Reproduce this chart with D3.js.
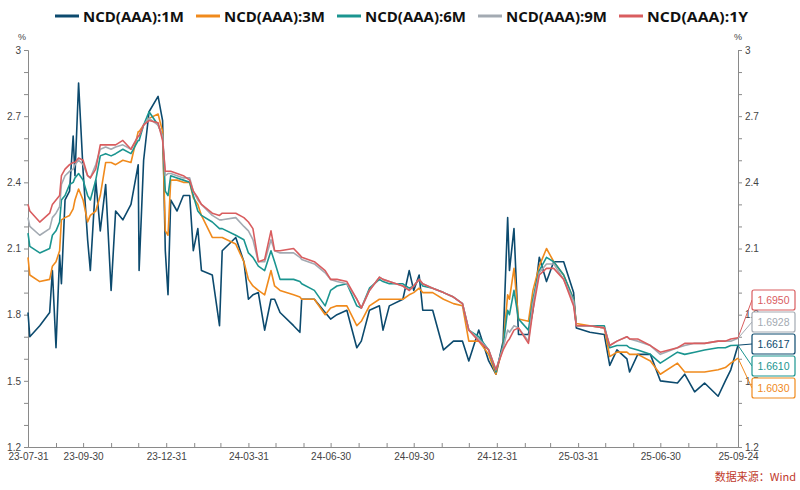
<!DOCTYPE html>
<html><head><meta charset="utf-8">
<script src="https://cdn.jsdelivr.net/npm/d3@7"></script>
<style>body{margin:0;background:#fff}svg{display:block;font-family:"Liberation Sans","Noto Sans",sans-serif}</style>
</head><body><svg id="c" width="800" height="490"></svg>
<script>
const dates = ["2023-07-31","2023-08-02","2023-08-13","2023-08-24","2023-08-27","2023-08-31","2023-09-04","2023-09-06","2023-09-10","2023-09-15","2023-09-19","2023-09-21","2023-09-25","2023-09-30","2023-10-05","2023-10-08","2023-10-14","2023-10-19","2023-10-25","2023-10-31","2023-11-05","2023-11-13","2023-11-22","2023-11-30","2023-12-01","2023-12-06","2023-12-12","2023-12-22","2023-12-27","2023-12-30","2024-01-02","2024-01-05","2024-01-12","2024-01-19","2024-01-26","2024-01-30","2024-02-04","2024-02-08","2024-02-20","2024-02-28","2024-03-02","2024-03-17","2024-03-26","2024-03-31","2024-04-05","2024-04-11","2024-04-18","2024-04-25","2024-04-29","2024-05-05","2024-05-20","2024-05-27","2024-05-29","2024-06-12","2024-06-24","2024-06-30","2024-07-07","2024-07-18","2024-07-29","2024-08-03","2024-08-12","2024-08-23","2024-08-27","2024-09-03","2024-09-18","2024-09-25","2024-09-30","2024-10-06","2024-10-10","2024-10-21","2024-11-02","2024-11-13","2024-11-23","2024-11-30","2024-12-11","2024-12-22","2024-12-30","2025-01-07","2025-01-12","2025-01-14","2025-01-19","2025-01-24","2025-02-04","2025-02-09","2025-02-16","2025-02-24","2025-03-04","2025-03-15","2025-03-26","2025-03-29","2025-04-13","2025-04-29","2025-05-05","2025-05-13","2025-05-24","2025-05-27","2025-06-05","2025-06-19","2025-06-30","2025-07-19","2025-07-27","2025-08-07","2025-08-18","2025-09-02","2025-09-10","2025-09-16","2025-09-24"];
const s1M = [1.81,1.70,1.75,1.81,2.00,1.65,2.07,1.94,2.32,2.36,2.61,2.43,2.85,2.45,2.14,2.00,2.41,2.18,2.39,1.91,2.27,2.23,2.30,2.48,2.00,2.50,2.72,2.79,2.68,2.09,1.89,2.32,2.27,2.34,2.34,2.09,2.19,2.00,1.98,1.75,2.09,2.15,2.04,1.87,1.89,1.90,1.73,1.87,1.87,1.81,1.75,1.72,1.87,1.87,1.81,1.78,1.80,1.82,1.65,1.68,1.82,1.84,1.73,1.84,1.87,2.00,1.91,1.98,1.82,1.82,1.64,1.68,1.68,1.59,1.73,1.59,1.53,1.68,2.24,2.00,2.19,1.71,1.71,1.82,2.06,1.95,2.04,2.04,1.90,1.74,1.72,1.71,1.57,1.64,1.60,1.54,1.62,1.62,1.50,1.49,1.53,1.45,1.49,1.43,1.50,1.55,1.6617];
const s3M = [2.06,1.98,1.95,1.96,2.02,2.04,2.09,2.23,2.24,2.25,2.28,2.32,2.37,2.32,2.22,2.25,2.27,2.34,2.49,2.49,2.48,2.50,2.49,2.63,2.63,2.66,2.69,2.71,2.63,2.18,2.16,2.41,2.41,2.40,2.40,2.33,2.30,2.25,2.15,2.15,2.15,2.12,2.04,1.96,1.93,1.91,1.89,2.00,1.93,1.91,1.89,1.88,1.87,1.87,1.80,1.83,1.84,1.84,1.75,1.77,1.84,1.87,1.87,1.87,1.87,1.89,1.90,1.92,1.90,1.90,1.87,1.85,1.84,1.68,1.68,1.62,1.53,1.66,1.89,1.87,2.01,1.78,1.77,1.91,2.02,2.10,2.04,1.98,1.87,1.76,1.75,1.74,1.61,1.63,1.63,1.62,1.62,1.59,1.53,1.58,1.54,1.54,1.54,1.55,1.56,1.58,1.6030];
const s6M = [2.17,2.11,2.08,2.10,2.16,2.18,2.22,2.32,2.34,2.39,2.40,2.42,2.44,2.41,2.34,2.32,2.41,2.52,2.53,2.52,2.53,2.55,2.53,2.59,2.59,2.66,2.72,2.66,2.61,2.36,2.34,2.43,2.42,2.41,2.40,2.34,2.27,2.25,2.22,2.19,2.19,2.16,2.14,2.08,2.06,2.02,2.00,2.09,2.04,1.96,1.96,1.95,1.94,1.91,1.84,1.91,1.93,1.94,1.84,1.83,1.92,1.96,1.95,1.94,1.94,1.92,1.93,1.96,1.93,1.92,1.90,1.88,1.85,1.73,1.70,1.64,1.54,1.66,1.82,1.80,1.91,1.78,1.73,1.87,2.00,2.06,2.04,1.98,1.87,1.75,1.75,1.75,1.65,1.66,1.66,1.65,1.64,1.62,1.58,1.63,1.62,1.63,1.64,1.65,1.65,1.66,1.6610];
const s9M = [2.24,2.20,2.16,2.19,2.24,2.26,2.29,2.39,2.43,2.45,2.46,2.48,2.50,2.48,2.43,2.42,2.48,2.55,2.56,2.55,2.56,2.57,2.55,2.61,2.61,2.66,2.69,2.66,2.61,2.43,2.44,2.44,2.43,2.42,2.42,2.36,2.32,2.30,2.25,2.23,2.23,2.24,2.20,2.18,2.14,2.04,2.04,2.14,2.09,2.08,2.08,2.06,2.05,2.03,1.99,1.96,1.95,1.94,1.87,1.83,1.91,1.97,1.96,1.95,1.93,1.91,1.93,1.96,1.94,1.92,1.90,1.88,1.85,1.73,1.69,1.64,1.55,1.65,1.73,1.72,1.75,1.74,1.68,1.85,1.99,2.03,2.03,1.96,1.86,1.75,1.75,1.74,1.66,1.68,1.70,1.69,1.68,1.66,1.62,1.65,1.66,1.67,1.67,1.68,1.68,1.68,1.6928];
const s1Y = [2.30,2.27,2.22,2.26,2.30,2.32,2.34,2.43,2.46,2.48,2.49,2.49,2.51,2.50,2.43,2.42,2.46,2.57,2.57,2.57,2.57,2.59,2.55,2.61,2.61,2.66,2.68,2.67,2.59,2.45,2.45,2.45,2.44,2.43,2.41,2.36,2.33,2.30,2.26,2.25,2.26,2.26,2.24,2.22,2.19,2.04,2.05,2.18,2.09,2.09,2.10,2.07,2.06,2.04,2.00,1.96,1.96,1.95,1.87,1.83,1.91,1.97,1.96,1.95,1.93,1.91,1.93,1.96,1.94,1.92,1.90,1.88,1.85,1.73,1.68,1.64,1.55,1.64,1.68,1.69,1.73,1.74,1.67,1.82,1.98,2.01,2.01,1.96,1.84,1.75,1.75,1.74,1.66,1.68,1.70,1.69,1.69,1.66,1.63,1.65,1.67,1.67,1.67,1.68,1.68,1.69,1.6950];
const seriesNames = ["NCD(AAA):1M","NCD(AAA):3M","NCD(AAA):6M","NCD(AAA):9M","NCD(AAA):1Y"];
const seriesColors = ["#0c4a6e","#f08a1c","#1b9590","#a3aab2","#d95d5f"];
const endLabels = ["1.6617","1.6030","1.6610","1.6928","1.6950"];
const xTickLabels = ["2023-07-31","2023-09-30","2023-12-31","2024-03-31","2024-06-30","2024-09-30","2024-12-31","2025-03-31","2025-06-30","2025-09-24"];
const yTicks = [1.2,1.5,1.8,2.1,2.4,2.7,3.0];

const allSeries = [s1M,s3M,s6M,s9M,s1Y];
const svg = d3.select("#c");
const parse = d3.timeParse("%Y-%m-%d");
const fmt = d3.timeFormat("%y-%m-%d");
const L=28,R=738,T=50,B=447;
const x = d3.scaleTime().domain([parse(dates[0]),parse(dates[dates.length-1])]).range([L,R]);
const y = d3.scaleLinear().domain([1.2,3.0]).range([B,T]);
const axisCol="#8a8a8a", txtCol="#444";

const minorY = d3.range(12,31).map(d=>d/10);
const lab = d=>yTicks.some(t=>Math.abs(t-d)<1e-9)?(Math.abs(d-3)<1e-9?"3":d.toFixed(1)):"";
svg.append("g").attr("transform",`translate(${L},0)`).call(d3.axisLeft(y).tickValues(minorY).tickSize(4).tickFormat(lab));
svg.append("g").attr("transform",`translate(${R},0)`).call(d3.axisRight(y).tickValues(minorY).tickSize(4).tickFormat(lab));
const monthTicks = d3.timeMonth.range(parse("2023-08-01"),parse("2025-09-24")).map(d=>d3.timeDay.offset(d,-1));
svg.append("g").attr("transform",`translate(0,${B})`)
  .call(d3.axisBottom(x).tickValues(monthTicks.concat([parse("2025-09-24")])).tickSize(-4).tickFormat(""));
svg.append("g").attr("transform",`translate(0,${B})`)
  .call(d3.axisBottom(x).tickValues(xTickLabels.map(parse)).tickSize(0).tickPadding(6).tickFormat(fmt))
  .call(g=>g.select(".domain").remove());
svg.selectAll(".domain").attr("stroke",axisCol);
svg.selectAll(".tick line").attr("stroke",axisCol);
svg.selectAll(".tick text").attr("fill",txtCol).style("font-size","10px").style("font-family","'Liberation Sans',sans-serif");
svg.append("text").attr("x",18).attr("y",40).attr("font-size",9).attr("fill",txtCol).text("%");
svg.append("text").attr("x",734).attr("y",40).attr("font-size",9).attr("fill",txtCol).text("%");

const line = d3.line().x((d,i)=>x(parse(dates[i]))).y(d=>y(d));
allSeries.forEach((s,k)=>{
  svg.append("path").datum(s).attr("d",line).attr("fill","none")
    .attr("stroke",seriesColors[k]).attr("stroke-width",1.6).attr("stroke-linejoin","round");
});

const order=[4,3,0,2,1];
order.forEach((k,j)=>{
  const cy = 300 + j*22;
  const vy = y(allSeries[k][allSeries[k].length-1]);
  svg.append("line").attr("x1",R).attr("y1",vy).attr("x2",752).attr("y2",cy).attr("stroke",seriesColors[k]).attr("stroke-width",1);
  svg.append("rect").attr("x",752).attr("y",cy-10).attr("width",43).attr("height",20).attr("rx",2)
    .attr("fill","#fff").attr("stroke",seriesColors[k]).attr("stroke-width",1.2);
  svg.append("text").attr("x",773.5).attr("y",cy+4).attr("text-anchor","middle").attr("font-size",10.5)
    .attr("fill",seriesColors[k]).text(endLabels[k]);
});

seriesNames.forEach((n,k)=>{
  const lx = 55 + k*141;
  svg.append("line").attr("x1",lx).attr("x2",lx+24).attr("y1",16).attr("y2",16).attr("stroke",seriesColors[k]).attr("stroke-width",3);
  svg.append("text").attr("x",lx+28).attr("y",21.5).attr("font-size",15).attr("font-weight","bold")
    .attr("fill","#111").attr("textLength",101).attr("lengthAdjust","spacingAndGlyphs")
    .style("font-family","'Open Sans','Liberation Sans',sans-serif").text(n);
});
svg.append("text").attr("x",796).attr("y",481).attr("text-anchor","end").attr("font-size",11)
  .attr("fill","#c0392b").style("font-family","'Noto Sans CJK SC',sans-serif").text("数据来源：Wind");
</script></body></html>
